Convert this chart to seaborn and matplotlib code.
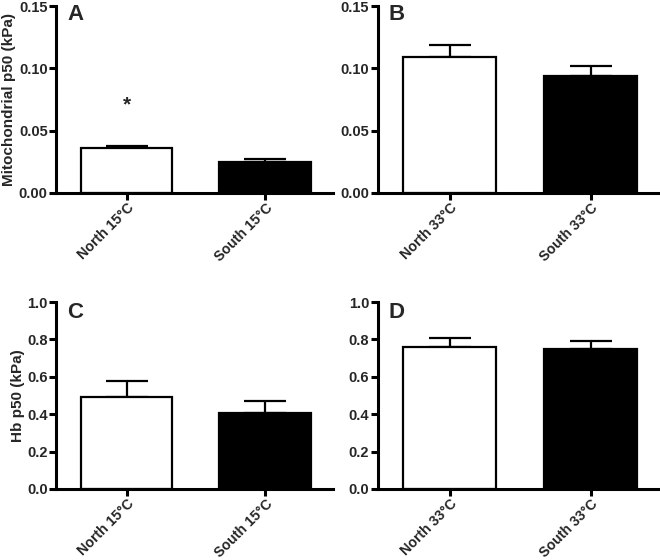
import matplotlib
matplotlib.use("Agg")
import matplotlib.pyplot as plt
from matplotlib.ticker import FormatStrFormatter
import seaborn as sns
import pandas as pd

# data
groups_15 = ["North 15°C", "South 15°C"]
groups_33 = ["North 33°C", "South 33°C"]
mito_15 = [0.036, 0.025]
mito_15_err = [0.0015, 0.0022]
mito_33 = [0.109, 0.094]
mito_33_err = [0.010, 0.008]
hb_15 = [0.490, 0.405]
hb_15_err = [0.086, 0.068]
hb_33 = [0.760, 0.746]
hb_33_err = [0.050, 0.048]

sns.set_style("white")
plt.rcParams['font.family'] = ['Liberation Sans', 'DejaVu Sans']
plt.rcParams['font.weight'] = 'bold'


def draw_panel(ax, labels, means, errs, ymax, step, fmt, letter,
               ylabel=None, ylab_x=None, letter_y=0.925, star=None):
    df = pd.DataFrame({'group': labels, 'value': means})
    sns.barplot(data=df, x='group', y='value', hue='group',
                palette=['white', 'black'], edgecolor='black', linewidth=1.6,
                width=0.66, legend=False, ax=ax, zorder=2)
    # upward-only error bars, hidden behind the bar below the mean
    ax.errorbar(range(len(means)), means, yerr=[[0] * len(errs), errs],
                fmt='none', ecolor='black', elinewidth=1.6, capsize=15,
                capthick=1.6, zorder=1)
    ax.set_xlim(-0.51, 1.49)
    ax.set_ylim(0, ymax)
    ax.set_yticks([i * step for i in range(int(round(ymax / step)) + 1)])
    ax.yaxis.set_major_formatter(FormatStrFormatter(fmt))
    ax.set_xticks(range(len(labels)))
    ax.set_xticklabels(labels, rotation=45, ha='right', rotation_mode='anchor',
                       fontweight='bold', fontsize=10.2)
    sns.despine(ax=ax)
    for s in ['left', 'bottom']:
        ax.spines[s].set_linewidth(2.2)
        ax.spines[s].set_color('black')
    ax.tick_params(axis='both', which='both', direction='out', width=2.2,
                   color='black', bottom=True, left=True, length=5)
    ax.tick_params(axis='y', pad=1, labelsize=10.5)
    ax.tick_params(axis='x', pad=0.5)
    for t in ax.get_yticklabels():
        t.set_fontweight('bold')
    ax.set_xlabel('')
    if ylabel:
        ax.set_ylabel(ylabel, fontsize=11, fontweight='bold')
        ax.yaxis.set_label_coords(ylab_x, 0.5)
    else:
        ax.set_ylabel('')
    ax.text(0.04, letter_y, letter, transform=ax.transAxes, fontsize=16,
            fontweight='bold', ha='left', va='baseline')
    if star is not None:
        ax.text(0, star, '*', fontsize=15, fontweight='bold',
                ha='center', va='center')


fig = plt.figure(figsize=(6.6, 5.6), dpi=100)
W, H = 660, 560
axA = fig.add_axes([56 / W, 1 - 193 / H, 277 / W, 187 / H])
axB = fig.add_axes([377.5 / W, 1 - 193 / H, 282.5 / W, 187 / H])
axC = fig.add_axes([56 / W, 1 - 489 / H, 277 / W, 187 / H])
axD = fig.add_axes([377.5 / W, 1 - 489 / H, 282.5 / W, 187 / H])

draw_panel(axA, groups_15, mito_15, mito_15_err, 0.15, 0.05, '%.2f', 'A',
           ylabel='Mitochondrial p50 (kPa)', ylab_x=-0.145, star=0.071)
draw_panel(axB, groups_33, mito_33, mito_33_err, 0.15, 0.05, '%.2f', 'B')
draw_panel(axC, groups_15, hb_15, hb_15_err, 1.0, 0.2, '%.1f', 'C',
           ylabel='Hb p50 (kPa)', ylab_x=-0.112, letter_y=0.916)
draw_panel(axD, groups_33, hb_33, hb_33_err, 1.0, 0.2, '%.1f', 'D',
           letter_y=0.916)

fig.savefig('out.png', dpi=100)
